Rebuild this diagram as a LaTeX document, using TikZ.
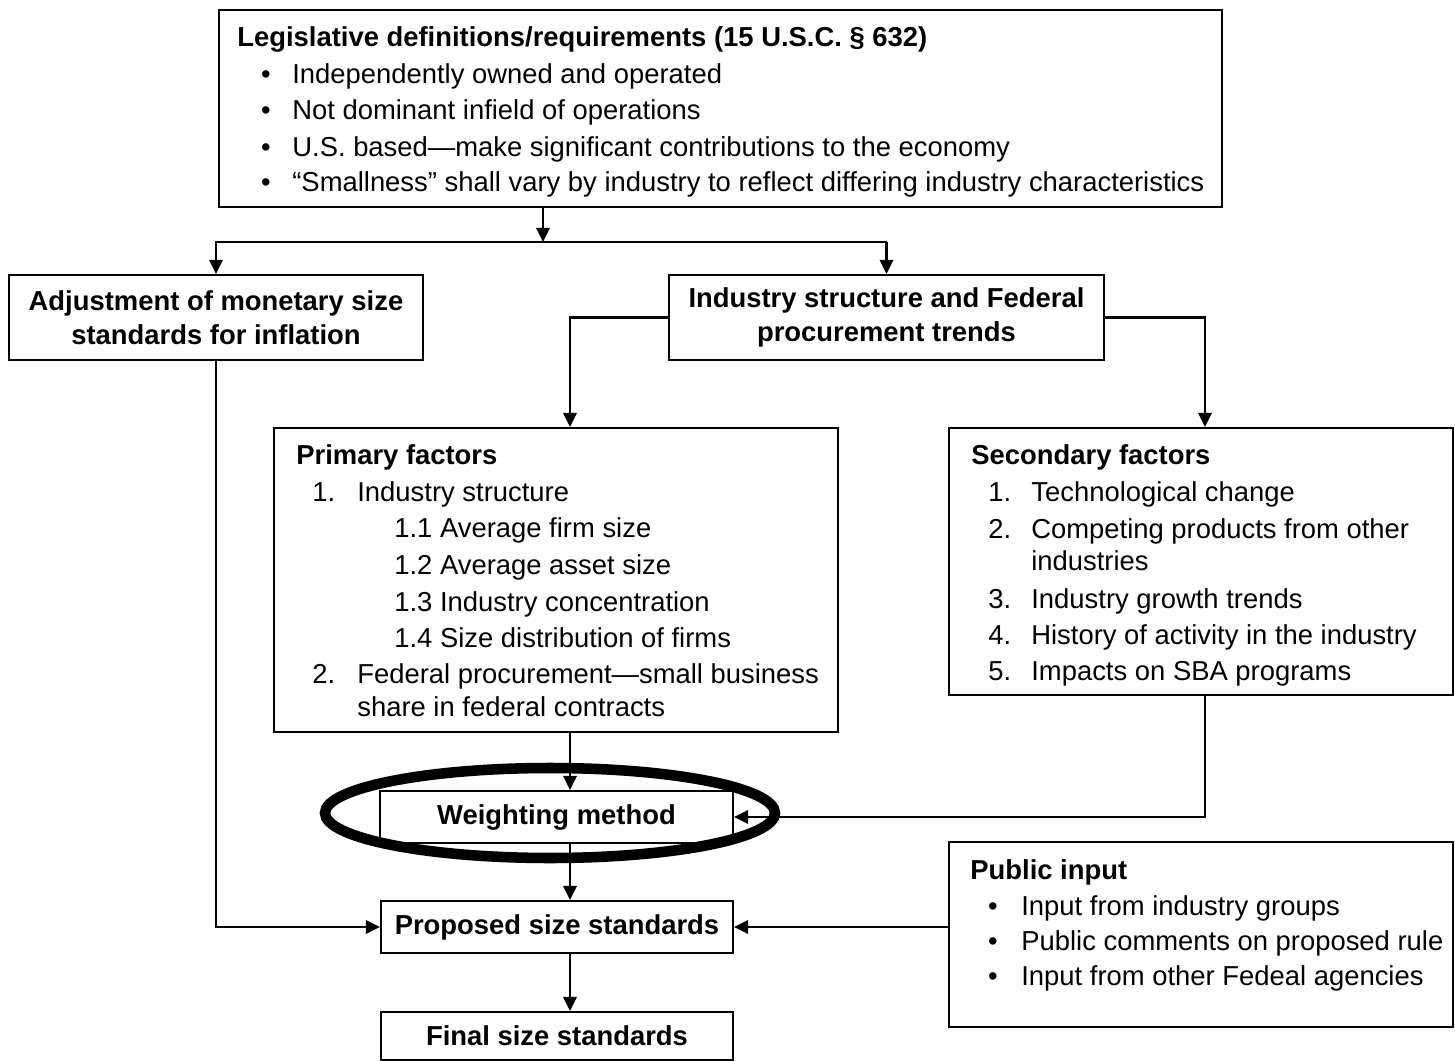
\documentclass[tikz,border=0pt]{standalone}
\usepackage{fontspec}
\setmainfont{Liberation Sans}
\usetikzlibrary{arrows.meta}

\tikzset{
  box/.style={draw, line width=1.1pt, inner sep=0pt},
  sz/.style 2 args={minimum width=#1*0.02cm, minimum height=#2*0.02cm},
  bbox/.style={box, align=center, font=\fontsize{15.6pt}{19.3pt}\selectfont\bfseries},
  arr/.style={line width=1.6pt, -{Triangle[length=8pt,width=7.5pt]}},
  txt/.style={anchor=base west, inner sep=0pt},
  head/.style={txt, font=\fontsize{15.6pt}{18pt}\selectfont\bfseries},
  dot/.style={anchor=base, inner sep=0pt},
}

\begin{document}
\begin{tikzpicture}[x=0.02cm, y=-0.02cm, font=\fontsize{15.6pt}{18pt}\selectfont]
  \useasboundingbox (0,0) rectangle (1455,1061);

  % boxes
  \node[box, sz={1003}{197}] (legis) at (720.5,108.5) {};
  \node[bbox, sz={414}{85}] (adjust) at (216,317.5) {Adjustment of monetary size\\standards for inflation};
  \node[bbox, sz={435}{85}] (industry) at (886.5,317.5) {Industry structure and Federal\\procurement trends};
  \node[box, sz={564}{304}] (primary) at (556,580) {};
  \node[box, sz={504}{267}] (secondary) at (1201,561.5) {};
  \node[bbox, sz={353}{52}] (weight) at (556.5,817) {Weighting method};
  \node[box, sz={504}{185}] (public) at (1201,934.5) {};
  \node[bbox, sz={352}{52}] (proposed) at (557,927) {Proposed size standards};
  \node[bbox, sz={352}{48}] (final) at (557,1036) {Final size standards};

  % legislative text
  \node[head] (legist) at (237,47) {Legislative definitions/requirements (15 U.S.C. § 632)};
  \node[dot] (lb1) at (266,84) {•};
  \node[txt] (lt1) at (292,84) {Independently owned and operated};
  \node[dot] (lb2) at (266,120) {•};
  \node[txt] (lt2) at (292,120) {Not dominant infield of operations};
  \node[dot] (lb3) at (266,156) {•};
  \node[txt] (lt3) at (292,156) {U.S. based—make significant contributions to the economy};
  \node[dot] (lb4) at (266,192) {•};
  \node[txt] (lt4) at (292,192) {“Smallness” shall vary by industry to reflect differing industry characteristics};

  % primary factors
  \node[head] (primt) at (296,464) {Primary factors};
  \node[txt] (pn1) at (312,501) {1.};
  \node[txt] (pt1) at (357,501) {Industry structure};
  \node[txt] (ps1) at (394,537) {1.1 Average firm size};
  \node[txt] (ps2) at (394,574) {1.2 Average asset size};
  \node[txt] (ps3) at (394,611) {1.3 Industry concentration};
  \node[txt] (ps4) at (394,647) {1.4 Size distribution of firms};
  \node[txt] (pn2) at (312,683) {2.};
  \node[txt] (pt2) at (357,683) {Federal procurement—small business};
  \node[txt] (pt2b) at (357,716) {share in federal contracts};

  % secondary factors
  \node[head] (sect) at (971,464) {Secondary factors};
  \node[txt] (sn1) at (988,501) {1.};
  \node[txt] (st1) at (1031,501) {Technological change};
  \node[txt] (sn2) at (988,538) {2.};
  \node[txt] (st2) at (1031,538) {Competing products from other};
  \node[txt] (st2b) at (1031,570) {industries};
  \node[txt] (sn3) at (988,608) {3.};
  \node[txt] (st3) at (1031,608) {Industry growth trends};
  \node[txt] (sn4) at (988,644) {4.};
  \node[txt] (st4) at (1031,644) {History of activity in the industry};
  \node[txt] (sn5) at (988,680) {5.};
  \node[txt] (st5) at (1031,680) {Impacts on SBA programs};

  % public input
  \node[head] (pubt) at (970,879) {Public input};
  \foreach \i/\yy/\t in {1/915/Input from industry groups,
                         2/950/Public comments on proposed rule,
                         3/985/Input from other Fedeal agencies} {
    \node[dot] (pb\i) at (993,\yy) {•};
    \node[txt] (pu\i) at (1021,\yy) {\t};
  }

  % connectors
  \coordinate (bus) at (543,242);
  \coordinate (jl) at (570,316);
  \coordinate (jr) at (1205,316);
  \draw[arr] (legis.south -| bus) -- (bus);
  \draw[arr] (bus -| industry.north) -- (bus -| adjust.north) -- (adjust.north);
  \draw[arr] (bus -| industry.north) -- (industry.north);
  \draw[arr] (industry.west) -- (industry.west -| jl) -- (primary.north -| jl);
  \draw[arr] (industry.east) -- (industry.east -| jr) -- (secondary.north -| jr);
  \draw[arr] (primary.south -| jl) -- (weight.north -| jl);
  \draw[arr] (secondary.south -| jr) |- (weight.east);
  \draw[arr] (weight.south -| jl) -- (proposed.north -| jl);
  \draw[arr] (adjust.south) |- (proposed.west);
  \draw[arr] (public.west |- proposed.east) -- (proposed.east);
  \draw[arr] (proposed.south -| jl) -- (final.north -| jl);

  % highlight
  \draw[line width=6pt] (550,813) ellipse [x radius=4.5cm, y radius=0.9cm];
\end{tikzpicture}
\end{document}
